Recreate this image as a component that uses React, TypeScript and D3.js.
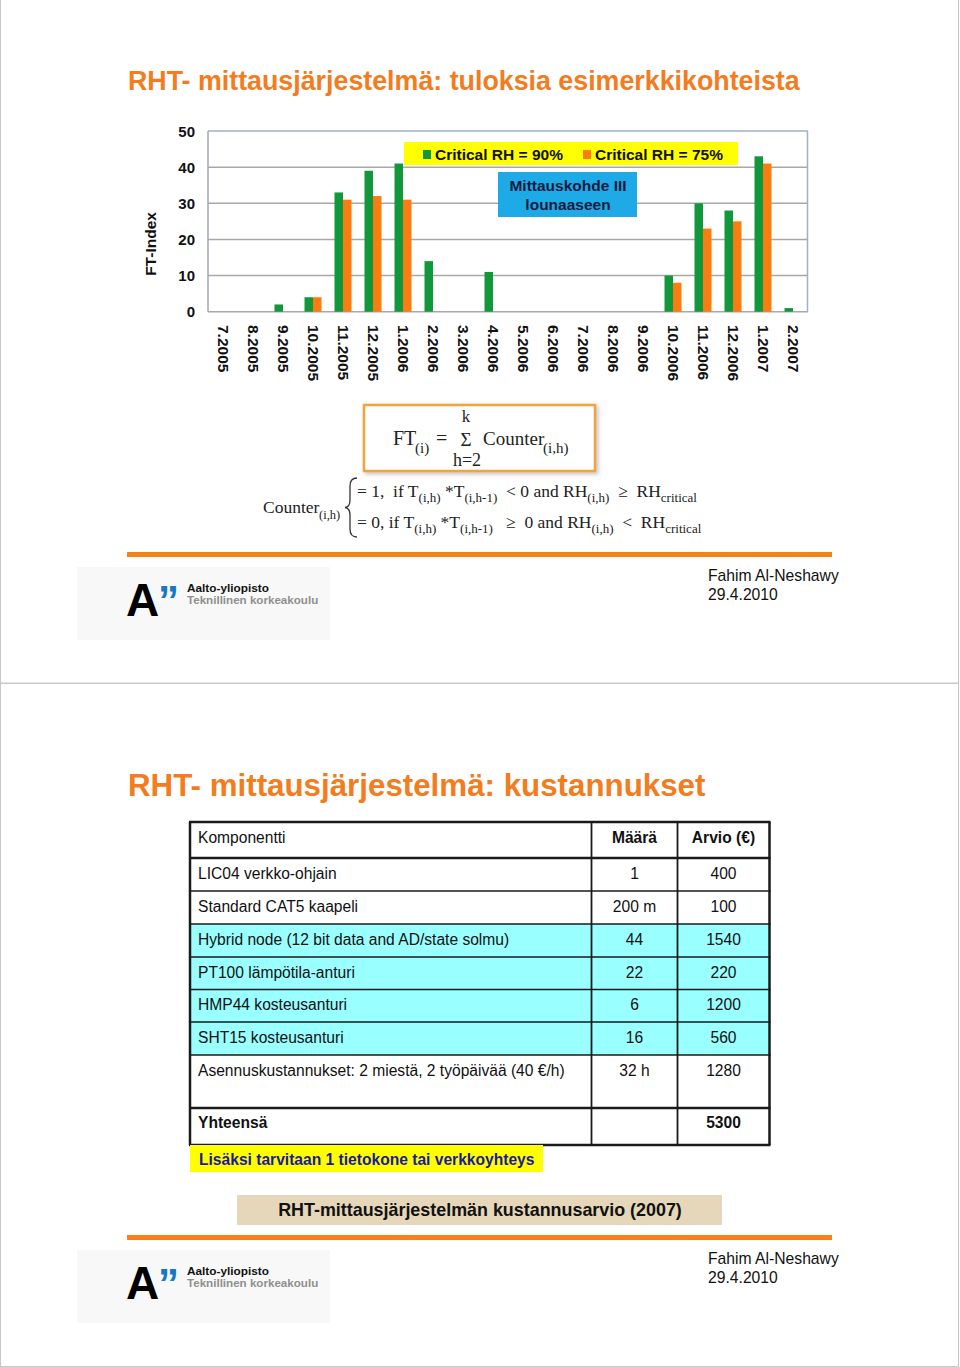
import React from "react";
import * as d3 from "d3";

const months = ["7.2005","8.2005","9.2005","10.2005","11.2005","12.2005","1.2006","2.2006","3.2006","4.2006","5.2006","6.2006","7.2006","8.2006","9.2006","10.2006","11.2006","12.2006","1.2007","2.2007"];
const rh90 = [0,0,2,4,33,39,41,14,0,11,0,0,0,0,0,10,30,28,43,1];
const rh75 = [0,0,0,4,31,32,31,0,0,0,0,0,0,0,0,8,23,25,41,0];
const yTicks = [0,10,20,30,40,50];
const seriesNames = ["Critical RH = 90%","Critical RH = 75%"];

const components = ["LIC04 verkko-ohjain","Standard CAT5 kaapeli","Hybrid node (12 bit data and AD/state solmu)","PT100 lämpötila-anturi","HMP44 kosteusanturi","SHT15 kosteusanturi","Asennuskustannukset: 2 miestä, 2 työpäivää (40 €/h)"];
const quantities = ["1","200 m","44","22","6","16","32 h"];
const costs = ["400","100","1540","220","1200","560","1280"];
const highlighted = [false,false,true,true,true,true,false];
const totalLabel = "Yhteensä";
const totalCost = "5300";

const SANS = "'Liberation Sans', Arial, Helvetica, sans-serif";
const SERIF = "'Liberation Serif', 'Times New Roman', serif";
const GREEN = "#12983c";
const ORANGE = "#fb7d12";
const TITLE = "#f27c1e";
const LINE = "#f98016";

function Sub({ segs, x, y, size, subSize, shift }: any) {
  return (
    <text x={x} y={y} fontSize={size} style={{ whiteSpace: "pre" }}>
      {segs.map((s: any, i: number) => {
        const prevSub = i > 0 && segs[i - 1].sub;
        let dy = 0;
        if (s.sub && !prevSub) dy = shift;
        if (!s.sub && prevSub) dy = -shift;
        return (
          <tspan key={i} dy={dy} fontSize={s.sub ? subSize : size}>{s.t}</tspan>
        );
      })}
    </text>
  );
}

function Logo({ y0 }: { y0: number }) {
  return (
    <g>
      <rect x={77} y={y0 + 567} width={253} height={73} fill="#f8f8f8" />
      <text x={126} y={y0 + 616} fontFamily={SANS} fontWeight={900} fontSize={46} fill="#000">A</text>
      <text x={158} y={y0 + 615} fontFamily={SANS} fontWeight={700} fontSize={42} fill="#1479c6">”</text>
      <text x={187} y={y0 + 592} fontFamily={SANS} fontWeight={700} fontSize={11.8} fill="#111">Aalto-yliopisto</text>
      <text x={187} y={y0 + 604} fontFamily={SANS} fontWeight={700} fontSize={11.6} fill="#8f8f8f">Teknillinen korkeakoulu</text>
      <text x={708} y={y0 + 581} fontFamily={SANS} fontSize={15.7} fill="#111">Fahim Al-Neshawy</text>
      <text x={708} y={y0 + 600} fontFamily={SANS} fontSize={15.7} fill="#111">29.4.2010</text>
      <rect x={127} y={y0 + 552} width={705} height={5} fill={LINE} />
    </g>
  );
}

export default function App() {
  const x = d3.scaleBand<string>().domain(months).range([208, 808]);
  const y = d3.scaleLinear().domain([0, 50]).range([311.7, 131]);
  const bw = x.bandwidth();
  const sub = d3.scaleBand<string>().domain(["g", "o"]).range([bw / 2 - 8.5, bw / 2 + 8.5]);

  // table layout
  const tX = [190, 591.5, 677.5, 769.5];
  const rowH = [36, 33, 33, 33, 32.5, 32.5, 33, 53, 37];
  const rowTops: number[] = [];
  let acc = 822;
  rowH.forEach((h) => { rowTops.push(acc); acc += h; });
  rowTops.push(acc);

  return (
    <svg width={960} height={1367} style={{ position: "absolute", left: 0, top: 0, display: "block", background: "#fff" }} fontFamily={SANS}>
      <defs>
        <filter id="sh" x="-10%" y="-10%" width="130%" height="140%">
          <feDropShadow dx="2" dy="2" stdDeviation="2" floodColor="#999" floodOpacity="0.6" />
        </filter>
      </defs>
      <rect x={0} y={0} width={960} height={1367} fill="#fff" />
      <rect x={0.5} y={-1} width={958} height={684} fill="none" stroke="#c8c8c8" />
      <rect x={0.5} y={683.5} width={958} height={683} fill="none" stroke="#c8c8c8" />

      {/* Slide 1 */}
      <text x={128} y={90} fontSize={26.8} fontWeight={700} fill={TITLE}>RHT- mittausjärjestelmä: tuloksia esimerkkikohteista</text>

      {/* gridlines */}
      {yTicks.map((t) => (
        <line key={t} x1={208} x2={808} y1={y(t)} y2={y(t)} stroke={t === 50 ? "#9fb0c4" : "#a8a8a8"} strokeWidth={1.5} />
      ))}
      <line x1={208} x2={208} y1={131} y2={311.7} stroke="#a0a8b4" strokeWidth={1.5} />
      <line x1={807.5} x2={807.5} y1={131} y2={311.7} stroke="#9fb0c4" strokeWidth={1.5} />
      {yTicks.map((t) => (
        <text key={t} x={195} y={y(t)} textAnchor="end" dominantBaseline="central" fontSize={15} fontWeight={700} fill="#111">{t}</text>
      ))}
      <text transform="translate(150,244) rotate(-90)" textAnchor="middle" dominantBaseline="central" fontSize={15.5} fontWeight={700} fill="#111">FT-Index</text>

      {months.map((m, i) => (
        <g key={m}>
          {rh90[i] > 0 && <rect x={(x(m) as number) + (sub("g") as number)} y={y(rh90[i])} width={sub.bandwidth()} height={y(0) - y(rh90[i])} fill={GREEN} />}
          {rh75[i] > 0 && <rect x={(x(m) as number) + (sub("o") as number)} y={y(rh75[i])} width={sub.bandwidth()} height={y(0) - y(rh75[i])} fill={ORANGE} />}
          <text transform={`translate(${(x(m) as number) + bw / 2},325) rotate(90)`} dominantBaseline="central" fontSize={15.5} fontWeight={700} fill="#111">{m}</text>
        </g>
      ))}

      {/* legend */}
      <rect x={404} y={142} width={334} height={23} fill="#ffff00" />
      <rect x={423} y={150} width={8} height={9} fill={GREEN} />
      <text x={435} y={160} fontSize={15.5} fontWeight={700} fill="#111">{seriesNames[0]}</text>
      <rect x={583} y={150} width={8} height={9} fill={ORANGE} />
      <text x={595} y={160} fontSize={15.5} fontWeight={700} fill="#111">{seriesNames[1]}</text>

      <rect x={498} y={172} width={139} height={45} fill="#1eaae6" />
      <text x={568} y={191} textAnchor="middle" fontSize={15.5} fontWeight={700} fill="#161a40">Mittauskohde III</text>
      <text x={568} y={210} textAnchor="middle" fontSize={15.5} fontWeight={700} fill="#161a40">lounaaseen</text>

      {/* formula */}
      <g fontFamily={SERIF} fill="#222">
        <rect x={364} y={405} width={231} height={66} fill="#fff" stroke="#f2a33a" strokeWidth={2.5} filter="url(#sh)" />
        <text x={393} y={445} fontSize={20}>FT</text>
        <text x={415} y={453} fontSize={15}>(i)</text>
        <text x={436} y={445} fontSize={20}>=</text>
        <text x={466} y={446} fontSize={19} textAnchor="middle">Σ</text>
        <text x={466} y={422} fontSize={17} textAnchor="middle">k</text>
        <text x={467} y={466} fontSize={18} textAnchor="middle">h=2</text>
        <text x={483} y={445} fontSize={19}>Counter</text>
        <text x={543} y={453} fontSize={15}>(i,h)</text>

        <text x={263} y={513} fontSize={17.5}>Counter</text>
        <text x={319} y={519} fontSize={12.5}>(i,h)</text>
        <path d="M357,478 Q350,478 350,486 L350,500 Q350,507 345,507.5 Q350,508 350,515 L350,529 Q350,537 357,537" fill="none" stroke="#333" strokeWidth={1.3} />
        <Sub x={357} y={497} size={17.5} subSize={13} shift={5} segs={[
          { t: "= 1,  if T" }, { t: "(i,h)", sub: true }, { t: " *T" }, { t: "(i,h-1)", sub: true },
          { t: "  < 0 and RH" }, { t: "(i,h)", sub: true }, { t: "  ≥  RH" }, { t: "critical", sub: true },
        ]} />
        <Sub x={357} y={528} size={17.5} subSize={13} shift={5} segs={[
          { t: "= 0, if T" }, { t: "(i,h)", sub: true }, { t: " *T" }, { t: "(i,h-1)", sub: true },
          { t: "   ≥  0 and RH" }, { t: "(i,h)", sub: true }, { t: "  <  RH" }, { t: "critical", sub: true },
        ]} />
      </g>

      <Logo y0={0} />

      {/* Slide 2 */}
      <text x={128} y={796} fontSize={31.3} fontWeight={700} fill={TITLE}>RHT- mittausjärjestelmä: kustannukset</text>

      {/* table */}
      {components.map((c, i) => highlighted[i] ? (
        <rect key={c} x={tX[0]} y={rowTops[i + 1]} width={tX[3] - tX[0]} height={rowH[i + 1]} fill="#99ffff" />
      ) : null)}
      {rowTops.map((t, i) => (
        <line key={i} x1={tX[0] - 1} x2={tX[3] + 1} y1={t} y2={t} stroke="#1a1a1a" strokeWidth={i === 0 || i === 1 || i === 8 || i === 9 ? 2.5 : 1.5} />
      ))}
      {tX.map((xx, i) => (
        <line key={i} x1={xx} x2={xx} y1={rowTops[0]} y2={rowTops[rowTops.length - 1]} stroke="#1a1a1a" strokeWidth={i === 0 || i === 3 ? 2.5 : 1.8} />
      ))}
      <g fontSize={15.6} fill="#111">
        <text x={198} y={rowTops[0] + 15} dominantBaseline="central">Komponentti</text>
        <text x={(tX[1] + tX[2]) / 2} y={rowTops[0] + 15} dominantBaseline="central" textAnchor="middle" fontWeight={700}>Määrä</text>
        <text x={(tX[2] + tX[3]) / 2} y={rowTops[0] + 15} dominantBaseline="central" textAnchor="middle" fontWeight={700}>Arvio (€)</text>
        {components.map((c, i) => (
          <g key={c}>
            <text x={198} y={rowTops[i + 1] + 15} dominantBaseline="central">{c}</text>
            <text x={(tX[1] + tX[2]) / 2} y={rowTops[i + 1] + 15} dominantBaseline="central" textAnchor="middle">{quantities[i]}</text>
            <text x={(tX[2] + tX[3]) / 2} y={rowTops[i + 1] + 15} dominantBaseline="central" textAnchor="middle">{costs[i]}</text>
          </g>
        ))}
        <text x={198} y={rowTops[8] + 14} dominantBaseline="central" fontWeight={700}>{totalLabel}</text>
        <text x={(tX[2] + tX[3]) / 2} y={rowTops[8] + 14} dominantBaseline="central" textAnchor="middle" fontWeight={700}>{totalCost}</text>
      </g>

      <rect x={190} y={1145} width={353} height={27} fill="#ffff00" />
      <text x={199} y={1159} dominantBaseline="central" fontSize={15.6} fontWeight={700} fill="#1a1aa0">Lisäksi tarvitaan 1 tietokone tai verkkoyhteys</text>

      <rect x={237} y={1195} width={485} height={30} fill="#e6d7ba" />
      <text x={480} y={1210} textAnchor="middle" dominantBaseline="central" fontSize={17.9} fontWeight={700} fill="#111">RHT-mittausjärjestelmän kustannusarvio (2007)</text>

      <Logo y0={683} />
    </svg>
  );
}
